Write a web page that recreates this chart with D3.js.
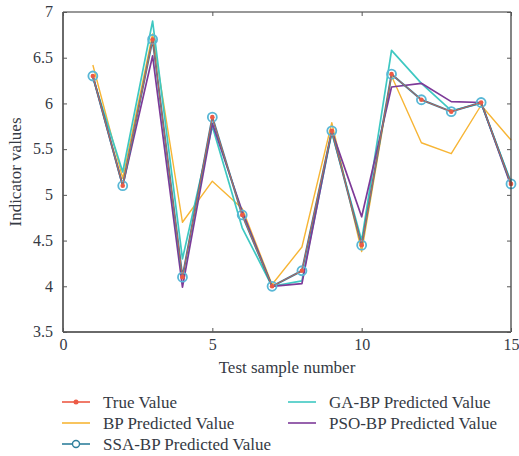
<!DOCTYPE html>
<html><head><meta charset="utf-8">
<script src="https://cdn.jsdelivr.net/npm/d3@7"></script>
<style>body{margin:0;background:#fff}svg{display:block}</style>
</head><body><svg id="c" width="519" height="456"></svg>
<script>
const samples = [1,2,3,4,5,6,7,8,9,10,11,12,13,14,15];
const trueValue = [6.30,5.10,6.70,4.10,5.85,4.78,4.00,4.17,5.70,4.45,6.32,6.04,5.91,6.01,5.12];
const bpPred    = [6.42,5.18,6.76,4.70,5.15,4.85,4.02,4.43,5.79,4.38,6.30,5.57,5.45,5.98,5.60];
const gaPred    = [6.28,5.25,6.90,4.30,5.75,4.64,4.00,4.06,5.68,4.50,6.58,6.22,5.92,6.00,5.14];
const psoPred   = [6.30,5.10,6.52,3.99,5.78,4.82,4.00,4.03,5.70,4.76,6.18,6.22,6.02,6.01,5.10];
const ssaPred   = [6.30,5.10,6.70,4.10,5.85,4.78,4.00,4.17,5.70,4.45,6.32,6.04,5.91,6.01,5.12];
const xTicks = [0,5,10,15];
const yTicks = [3.5,4,4.5,5,5.5,6,6.5,7];
const seriesNames = ["True Value","BP Predicted Value","SSA-BP Predicted Value","GA-BP Predicted Value","PSO-BP Predicted Value"];

const colors = {true:"#ec5a45", bp:"#f7b535", ssa:"#2f7f9c", ssaRing:"#58b7d6", ga:"#3ec8c2", pso:"#7d3a98"};
const svg = d3.select("#c");
const m = {l:63, r:511, t:12, b:332};
const x = d3.scaleLinear().domain([0,15]).range([m.l,m.r]);
const y = d3.scaleLinear().domain([3.5,7]).range([m.b,m.t]);
const font = "'Liberation Serif','DejaVu Serif',serif";
const txt = "#353a44";

const line = d3.line().x((d,i)=>x(samples[i])).y(d=>y(d));
const g = svg.append("g");
function drawLine(data,color,w){
  g.append("path").datum(data).attr("d",line).attr("fill","none")
   .attr("stroke",color).attr("stroke-width",w).attr("stroke-linejoin","round");
}
drawLine(bpPred,colors.bp,1.4);
drawLine(gaPred,colors.ga,1.7);
drawLine(psoPred,colors.pso,1.7);
drawLine(ssaPred,colors.ssa,2);
g.selectAll("circle.ssa").data(ssaPred).enter().append("circle")
  .attr("cx",(d,i)=>x(samples[i])).attr("cy",d=>y(d)).attr("r",4.5)
  .attr("fill","none").attr("stroke",colors.ssaRing).attr("stroke-width",1.8);
drawLine(trueValue,colors.true,0.8);
g.selectAll("circle.tv").data(trueValue).enter().append("circle")
  .attr("cx",(d,i)=>x(samples[i])).attr("cy",d=>y(d)).attr("r",2.3)
  .attr("fill",colors.true);

// frame
svg.append("line").attr("x1",m.l).attr("x2",m.r).attr("y1",m.t).attr("y2",m.t).attr("stroke","#333").attr("stroke-width",1.2);
svg.append("line").attr("x1",m.r).attr("x2",m.r).attr("y1",m.t).attr("y2",m.b).attr("stroke","#333").attr("stroke-width",1.2);
svg.append("line").attr("x1",m.l).attr("x2",m.l).attr("y1",m.t).attr("y2",m.b).attr("stroke","#6a6a6a").attr("stroke-width",2);
svg.append("line").attr("x1",m.l).attr("x2",m.r).attr("y1",m.b).attr("y2",m.b).attr("stroke","#6a6a6a").attr("stroke-width",2);
const xa = svg.append("g").attr("transform",`translate(0,${m.b})`)
  .call(d3.axisBottom(x).tickValues(xTicks).tickSize(-4).tickPadding(9).tickFormat(d3.format("d")));
const xt = svg.append("g").attr("transform",`translate(0,${m.t})`)
  .call(d3.axisTop(x).tickValues(xTicks).tickSize(-4).tickFormat(""));
const ya = svg.append("g").attr("transform",`translate(${m.l},0)`)
  .call(d3.axisLeft(y).tickValues(yTicks).tickSize(-4).tickPadding(10).tickFormat(d=>d));
const yr = svg.append("g").attr("transform",`translate(${m.r},0)`)
  .call(d3.axisRight(y).tickValues(yTicks).tickSize(-4).tickFormat(""));
[xa,xt,ya,yr].forEach(a=>{
  a.select(".domain").remove();
  a.selectAll("line").attr("stroke","#555");
  a.selectAll("text").attr("font-family",font).attr("font-size",16).attr("fill",txt);
});
xa.selectAll("text").attr("dy","0.55em");
ya.selectAll("text").attr("dy","0.3em");

svg.append("text").attr("x",287).attr("y",373).attr("text-anchor","middle")
  .attr("font-family",font).attr("font-size",17).attr("fill",txt).text("Test sample number");
svg.append("text").attr("transform","translate(21,172) rotate(-90)").attr("text-anchor","middle")
  .attr("font-family",font).attr("font-size",17).attr("fill",txt).text("Indicator values");

// legend
const leg = [
  {n:seriesNames[0],c:colors.true,x:62,y:402,type:"dot"},
  {n:seriesNames[1],c:colors.bp,x:62,y:423,type:"line"},
  {n:seriesNames[2],c:colors.ssa,x:62,y:444,type:"ring"},
  {n:seriesNames[3],c:colors.ga,x:288,y:402,type:"line"},
  {n:seriesNames[4],c:colors.pso,x:288,y:423,type:"line"}
];
const lg = svg.append("g");
leg.forEach(d=>{
  lg.append("line").attr("x1",d.x).attr("x2",d.x+28).attr("y1",d.y).attr("y2",d.y)
    .attr("stroke",d.c).attr("stroke-width",1.6);
  if(d.type==="dot") lg.append("circle").attr("cx",d.x+14).attr("cy",d.y).attr("r",2.5).attr("fill",d.c);
  if(d.type==="ring") lg.append("circle").attr("cx",d.x+14).attr("cy",d.y).attr("r",3.5).attr("fill","#fff").attr("stroke",d.c).attr("stroke-width",1.4);
  lg.append("text").attr("x",d.x+41).attr("y",d.y).attr("dy","0.35em")
    .attr("font-family",font).attr("font-size",17).attr("fill",txt).text(d.n);
});
</script></body></html>
